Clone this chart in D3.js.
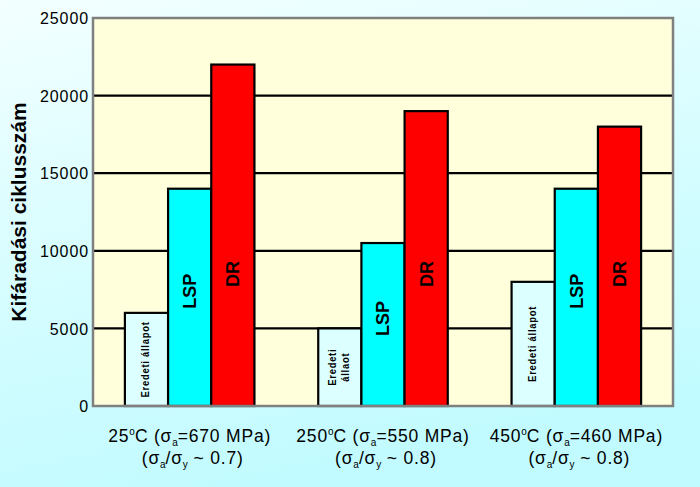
<!DOCTYPE html>
<html><head><meta charset="utf-8">
<script src="https://cdn.jsdelivr.net/npm/d3@7"></script>
<style>
html,body{margin:0;padding:0;width:700px;height:487px;overflow:hidden;}
svg{display:block;}
</style></head>
<body>
<svg id="c" width="700" height="487"></svg>
<script>
// ---- data ----
const groups = ["g25", "g250", "g450"];
const groupTemps = ["25", "250", "450"];
const groupStress = ["670", "550", "460"];
const groupRatio = ["0.7", "0.8", "0.8"];
const series = ["Eredeti", "LSP", "DR"];
const eredetiValues = [6000, 5000, 8000];
const lspValues = [14000, 10500, 14000];
const drValues = [22000, 19000, 18000];
const eredetiLabels = [["Eredeti állapot"], ["Eredeti", "állaot"], ["Eredeti állapot"]];
const yTicks = [0, 5000, 10000, 15000, 20000, 25000];
const yTitle = "Kifáradási ciklusszám";

const svg = d3.select("#c");
const W = 700, H = 487;
const m = {l: 93, r: 27, t: 18, b: 81};

// background gradient
const defs = svg.append("defs");
const g1 = defs.append("linearGradient").attr("id","bg").attr("x1","0").attr("y1","0").attr("x2","0.3").attr("y2","1");
g1.append("stop").attr("offset","0").attr("stop-color","#f3ffff");
g1.append("stop").attr("offset","0.5").attr("stop-color","#d8fdff");
g1.append("stop").attr("offset","1").attr("stop-color","#c2fbff");
svg.append("rect").attr("width",W).attr("height",H).attr("fill","url(#bg)");

const x0 = d3.scaleBand().domain(groups).range([m.l, W - m.r]).paddingInner(0.33).paddingOuter(0.165);
const x1 = d3.scaleBand().domain(series).range([0, x0.bandwidth()]);
const y = d3.scaleLinear().domain([0, 25000]).range([H - m.b, m.t]);

// plot area
svg.append("rect").attr("x", m.l).attr("y", m.t).attr("width", W - m.l - m.r).attr("height", H - m.t - m.b)
  .attr("fill", "#ffffdc");

// gridlines
svg.append("g").selectAll("line").data(yTicks.filter(d => d > 0 && d < 25000)).join("line")
  .attr("x1", m.l).attr("x2", W - m.r).attr("y1", d => y(d)).attr("y2", d => y(d))
  .attr("stroke", "#000").attr("stroke-width", 2.2);

// y axis tick labels
const yAxis = d3.axisLeft(y).tickValues(yTicks).tickSize(0).tickPadding(4).tickFormat(d => String(d));
const ya = svg.append("g").attr("transform", `translate(${m.l},0)`).call(yAxis);
ya.select(".domain").remove();
ya.selectAll("text").attr("font-family", "Liberation Sans, Arial, sans-serif").attr("font-size", 16)
  .attr("letter-spacing", "0.9px").attr("fill", "#000").attr("dy", "0.36em");

// bars
const rows = groups.map((g, i) => [
  {g, i, s: "Eredeti", v: eredetiValues[i]},
  {g, i, s: "LSP", v: lspValues[i]},
  {g, i, s: "DR", v: drValues[i]}
]);
const colors = {Eredeti: "#dcffff", LSP: "#00ffff", DR: "#ff0000"};
const gg = svg.append("g").selectAll("g").data(rows).join("g")
  .attr("transform", (d, i) => `translate(${x0(groups[i])},0)`);
gg.selectAll("rect").data(d => d).join("rect")
  .attr("x", d => x1(d.s)).attr("width", x1.bandwidth())
  .attr("y", d => y(d.v)).attr("height", d => y(0) - y(d.v))
  .attr("fill", d => colors[d.s]).attr("stroke", "#000").attr("stroke-width", 2.2);

// bar labels
gg.selectAll("text.big").data(d => d.filter(e => e.s !== "Eredeti")).join("text")
  .attr("class", "big")
  .attr("transform", d => {
    const cx = x1(d.s) + x1.bandwidth() / 2;
    const cy = d.s === "LSP" ? y(d.v / 2) - 6 : y(Math.min(d.v / 2, 8500));
    return `translate(${cx},${cy}) rotate(-90)`;
  })
  .attr("text-anchor", "middle").attr("dy", "0.36em")
  .attr("font-family", "Liberation Sans, Arial, sans-serif").attr("font-weight", "bold").attr("font-size", 18)
  .attr("fill", "#000").text(d => d.s);

gg.each(function(d, i) {
  const e = d[0];
  const lines = eredetiLabels[i];
  const cx = x1("Eredeti") + x1.bandwidth() / 2 - 1.5;
  const cy = y(e.v / 2);
  const t = d3.select(this).append("text")
    .attr("transform", `translate(${cx},${cy}) rotate(-90) scale(0.82,1)`)
    .attr("text-anchor", "middle")
    .attr("font-family", "Liberation Sans, Arial, sans-serif").attr("font-weight", "bold")
    .attr("font-size", 11.5).attr("letter-spacing", "0.9px").attr("fill", "#000");
  const n = lines.length;
  lines.forEach((ln, k) => {
    t.append("tspan").attr("x", 0).attr("y", 0)
      .attr("dy", ((k - (n - 1) / 2) * 1.05 + 0.36) + "em").text(ln);
  });
});

// plot border
svg.append("rect").attr("x", m.l).attr("y", m.t).attr("width", W - m.l - m.r).attr("height", H - m.t - m.b)
  .attr("fill", "none").attr("stroke", "#808080").attr("stroke-width", 2.5);

// x category labels
const xl = svg.append("g").selectAll("text").data(groups).join("text")
  .attr("x", d => x0(d) + x0.bandwidth() / 2).attr("y", 442)
  .attr("text-anchor", "middle")
  .attr("font-family", "Liberation Sans, Arial, sans-serif").attr("font-size", 17.5)
  .attr("letter-spacing", "0.8px").attr("fill", "#000");
xl.each(function(d, i) {
  const t = d3.select(this);
  t.append("tspan").text(groupTemps[i]);
  t.append("tspan").attr("font-size", 10).attr("dy", -7).attr("letter-spacing", "0px").text("o");
  t.append("tspan").attr("dy", 7).text("C (σ");
  t.append("tspan").attr("font-size", 10).attr("dy", 4).attr("letter-spacing", "0px").text("a");
  t.append("tspan").attr("dy", -4).text("=" + groupStress[i] + " MPa)");
  const x = x0(d) + x0.bandwidth() / 2 + 3;
  const t2 = d3.select(this.parentNode).append("text")
    .attr("x", x).attr("y", 464).attr("text-anchor", "middle")
    .attr("font-family", "Liberation Sans, Arial, sans-serif").attr("font-size", 17.5)
    .attr("letter-spacing", "0.8px").attr("fill", "#000");
  t2.append("tspan").text("(σ");
  t2.append("tspan").attr("font-size", 10).attr("dy", 4).attr("letter-spacing", "0px").text("a");
  t2.append("tspan").attr("dy", -4).text("/σ");
  t2.append("tspan").attr("font-size", 10).attr("dy", 4).attr("letter-spacing", "0px").text("y");
  t2.append("tspan").attr("dy", -4).text(" ~ " + groupRatio[i] + ")");
});

// y title
svg.append("text")
  .attr("transform", `translate(26,${(m.t + H - m.b) / 2}) rotate(-90)`)
  .attr("text-anchor", "middle")
  .attr("font-family", "Liberation Sans, Arial, sans-serif").attr("font-weight", "bold").attr("font-size", 21)
  .attr("fill", "#000").text(yTitle);
</script>
</body></html>
